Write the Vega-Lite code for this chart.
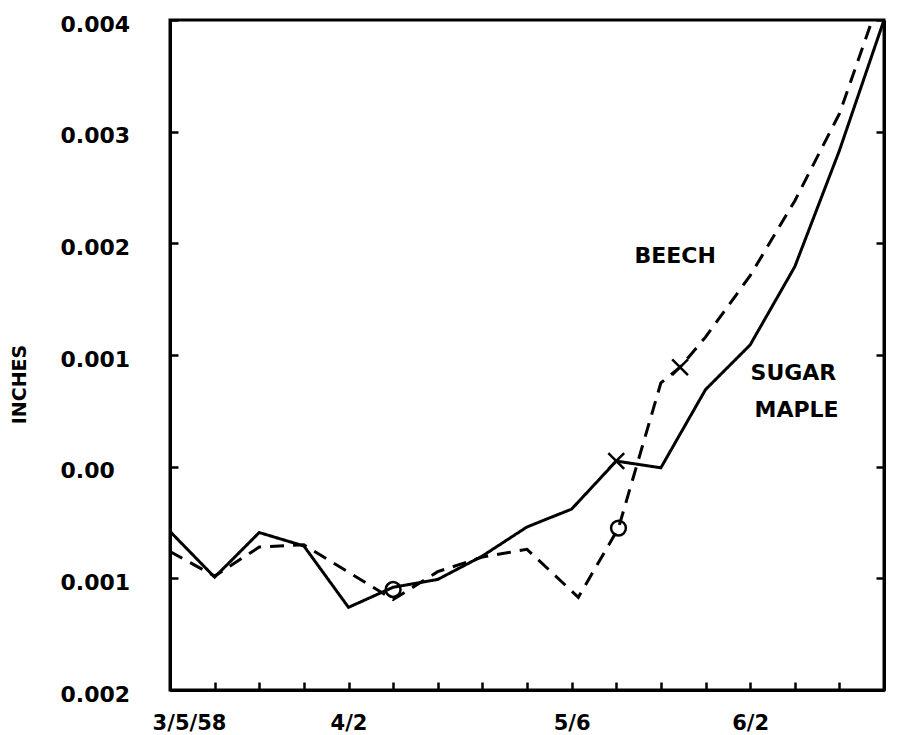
{
  "$schema": "https://vega.github.io/schema/vega-lite/v6.json",
  "width": 714,
  "height": 670,
  "autosize": {"type": "none"},
  "padding": {"left": 170, "top": 20, "right": 13, "bottom": 45},
  "background": "white",
  "config": {
    "view": {"stroke": "black", "strokeWidth": 3},
    "axis": {
      "grid": false,
      "domainColor": "black",
      "domainWidth": 3,
      "tickColor": "black",
      "tickWidth": 2.5,
      "labelColor": "black",
      "labelFont": "DejaVu Sans",
      "labelFontWeight": "bold",
      "labelFontSize": 22,
      "labelFlush": false,
      "labelOverlap": false,
      "labelBound": false,
      "titleColor": "black",
      "titleFont": "DejaVu Sans",
      "titleFontWeight": "bold"
    }
  },
  "datasets": {
    "lines": [
      {"species": "Sugar maple", "week": 0, "inches": -0.00058},
      {"species": "Sugar maple", "week": 1, "inches": -0.00099},
      {"species": "Sugar maple", "week": 2, "inches": -0.00059},
      {"species": "Sugar maple", "week": 3, "inches": -0.00071},
      {"species": "Sugar maple", "week": 4, "inches": -0.00126},
      {"species": "Sugar maple", "week": 5, "inches": -0.00108},
      {"species": "Sugar maple", "week": 6, "inches": -0.00101},
      {"species": "Sugar maple", "week": 7, "inches": -0.0008},
      {"species": "Sugar maple", "week": 8, "inches": -0.00054},
      {"species": "Sugar maple", "week": 9, "inches": -0.00038},
      {"species": "Sugar maple", "week": 10, "inches": 0.00005},
      {"species": "Sugar maple", "week": 11, "inches": -0.00001},
      {"species": "Sugar maple", "week": 12, "inches": 0.00069},
      {"species": "Sugar maple", "week": 13, "inches": 0.00109},
      {"species": "Sugar maple", "week": 14, "inches": 0.00179},
      {"species": "Sugar maple", "week": 15, "inches": 0.00283},
      {"species": "Sugar maple", "week": 16, "inches": 0.004},
      {"species": "Beech", "week": 0, "inches": -0.00076},
      {"species": "Beech", "week": 1, "inches": -0.00098},
      {"species": "Beech", "week": 2, "inches": -0.00072},
      {"species": "Beech", "week": 3, "inches": -0.0007},
      {"species": "Beech", "week": 5, "inches": -0.00119},
      {"species": "Beech", "week": 6, "inches": -0.00094},
      {"species": "Beech", "week": 7, "inches": -0.00081},
      {"species": "Beech", "week": 8, "inches": -0.00074},
      {"species": "Beech", "week": 9.15, "inches": -0.00117},
      {"species": "Beech", "week": 10.05, "inches": -0.00055},
      {"species": "Beech", "week": 11, "inches": 0.00075},
      {"species": "Beech", "week": 11.43, "inches": 0.00089},
      {"species": "Beech", "week": 12, "inches": 0.00116},
      {"species": "Beech", "week": 13, "inches": 0.00171},
      {"species": "Beech", "week": 14, "inches": 0.00238},
      {"species": "Beech", "week": 15, "inches": 0.00316},
      {"species": "Beech", "week": 16, "inches": 0.0043}
    ],
    "circles": [
      {"week": 5, "inches": -0.0011},
      {"week": 10.05, "inches": -0.00055}
    ],
    "crosses": [
      {"week": 10, "inches": 0.00005},
      {"week": 11.43, "inches": 0.00089}
    ],
    "labels": [
      {"week": 11.32, "inches": 0.00189, "text": "BEECH"},
      {"week": 13.97, "inches": 0.00084, "text": "SUGAR"},
      {"week": 14.04, "inches": 0.00051, "text": "MAPLE"}
    ]
  },
  "resolve": {"axis": {"y": "independent"}},
  "layer": [
    {
      "data": {"name": "lines"},
      "mark": {"type": "line", "color": "black", "strokeWidth": 3, "clip": true},
      "encoding": {
        "x": {
          "field": "week", "type": "quantitative",
          "scale": {"domain": [0, 16], "nice": false, "zero": false},
          "axis": {
            "orient": "bottom",
            "title": null,
            "values": [0,1,2,3,4,5,6,7,8,9,10,11,12,13,14,15,16],
            "tickSize": -8,
            "labelFontSize": 21,
            "labelBaseline": "alphabetic",
            "labelPadding": 47,
            "labelExpr": "datum.value == 0 ? '3/5/58' : datum.value == 4 ? '4/2' : datum.value == 9 ? '5/6' : datum.value == 13 ? '6/2' : ''",
            "labelOffset": {"condition": {"test": "datum.value == 0", "value": 19}, "value": 0}
          }
        },
        "y": {
          "field": "inches", "type": "quantitative",
          "scale": {"domain": [-0.002, 0.004], "nice": false, "zero": false},
          "axis": {
            "orient": "left",
            "title": "INCHES",
            "titleFontSize": 19,
            "titleAngle": 270,
            "titleX": -151,
            "titleY": 364,
            "titleAlign": "center",
            "titleBaseline": "middle",
            "values": [-0.002, -0.001, 0, 0.001, 0.002, 0.003, 0.004],
            "tickSize": -8,
            "labelAlign": "left",
            "labelPadding": 118,
            "labelOffset": 4,
            "labelExpr": "datum.value == 0 ? '0.00' : format(abs(datum.value), '.3f')"
          }
        },
        "strokeDash": {
          "field": "species", "type": "nominal",
          "scale": {"domain": ["Sugar maple", "Beech"], "range": [[1, 0], [14, 9]]},
          "legend": null
        },
        "detail": {"field": "species"}
      }
    },
    {
      "data": {"name": "circles"},
      "mark": {"type": "point", "shape": "circle", "filled": false, "color": "black", "strokeWidth": 2.5, "size": 220, "opacity": 1},
      "encoding": {
        "x": {"field": "week", "type": "quantitative"},
        "y": {
          "field": "inches", "type": "quantitative",
          "axis": {
            "orient": "right",
            "title": null,
            "labels": false,
            "values": [-0.002, -0.001, 0, 0.001, 0.002, 0.003, 0.004],
            "tickSize": -8
          }
        }
      }
    },
    {
      "data": {"name": "crosses"},
      "mark": {"type": "point", "shape": "M-1,-1L1,1M1,-1L-1,1", "filled": false, "color": "black", "strokeWidth": 2.5, "size": 250, "opacity": 1},
      "encoding": {
        "x": {"field": "week", "type": "quantitative"},
        "y": {"field": "inches", "type": "quantitative", "axis": null}
      }
    },
    {
      "data": {"name": "labels"},
      "mark": {"type": "text", "font": "DejaVu Sans", "fontWeight": "bold", "fontSize": 22, "color": "black", "align": "center", "baseline": "middle"},
      "encoding": {
        "x": {"field": "week", "type": "quantitative"},
        "y": {"field": "inches", "type": "quantitative", "axis": null},
        "text": {"field": "text"}
      }
    }
  ]
}
